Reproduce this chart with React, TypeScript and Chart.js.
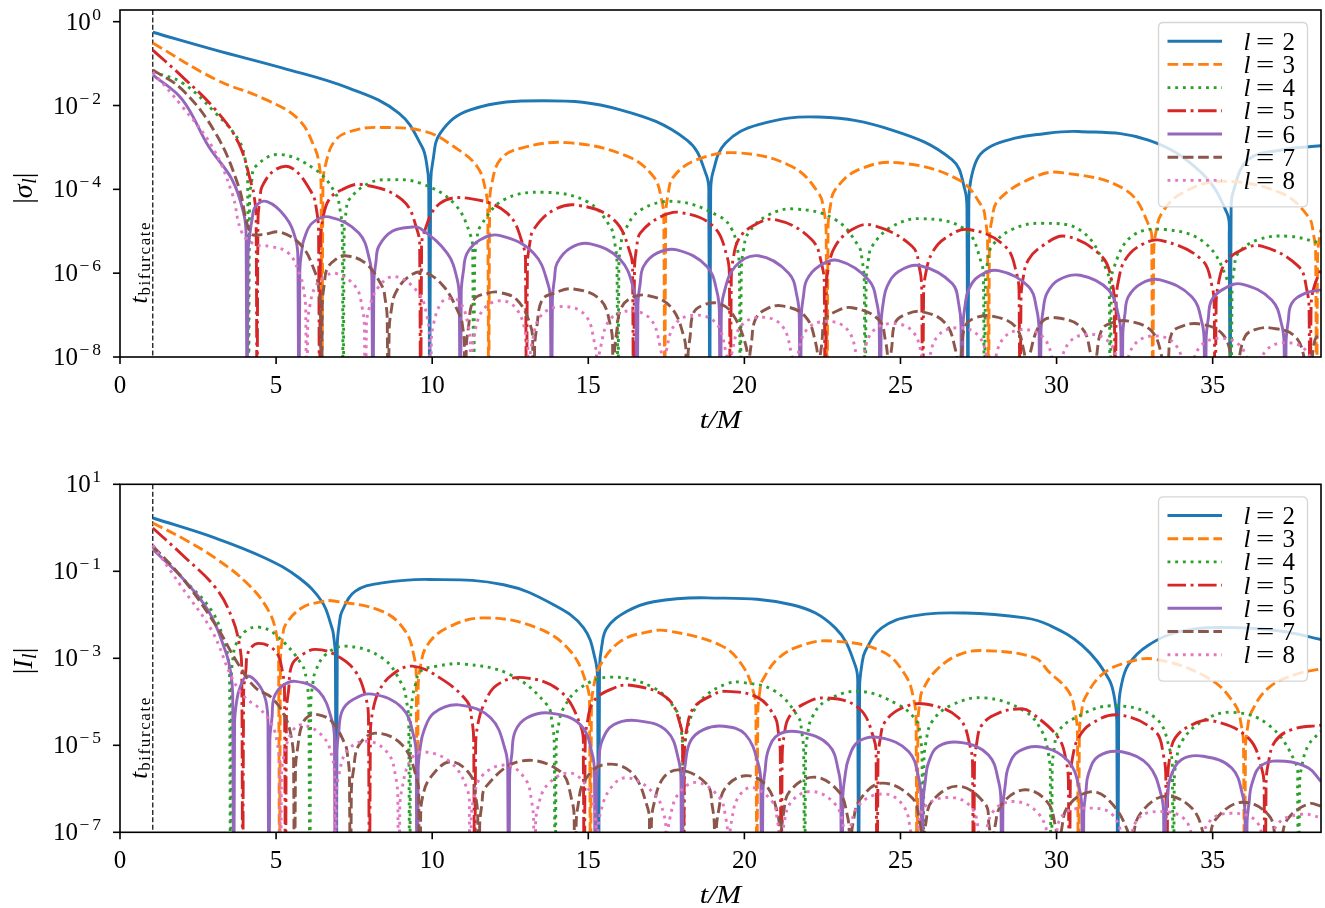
import React, { useEffect, useRef } from "react";
import {
  Chart,
  LineController,
  LineElement,
  PointElement,
  LinearScale,
  LogarithmicScale,
} from "chart.js";

Chart.register(LineController, LineElement, PointElement, LinearScale, LogarithmicScale);

type Pt = [number, number];

// ---------- shared settings ----------
const Z = 1e-14; // value at a zero crossing (|x| -> 0, far below the axis)
const T_BIF = 1.05;
const X_MIN = 0;
const X_MAX = 38.47;
const X_TICKS = [0, 5, 10, 15, 20, 25, 30, 35];
const L_VALUES = [2, 3, 4, 5, 6, 7, 8];
const COLORS = ["#1f77b4", "#ff7f0e", "#2ca02c", "#d62728", "#9467bd", "#8c564b", "#e377c2"];

const SIGMA_Y_MIN = 1e-8;
const SIGMA_Y_MAX = 1.9;
const SIGMA_Y_TICKS = [1e-8, 1e-6, 1e-4, 1e-2, 1];
const SIGMA_Y_EXP = ["-8", "-6", "-4", "-2", "0"];

const I_Y_MIN = 1e-7;
const I_Y_MAX = 10;
const I_Y_TICKS = [1e-7, 1e-5, 1e-3, 1e-1, 10];
const I_Y_EXP = ["-7", "-5", "-3", "-1", "1"];

// ---------- |sigma_l| (top panel) ----------
const sigmaL2: Pt[] = [
  [1.05, 5.6e-1], [3.06, 2.1e-1], [5.19, 7.9e-2], [7.33, 2.6e-2], [8.93, 6.6e-3], [9.67, 1.05e-3], [9.82, 4.2e-4], [9.89, 1.26e-4], [9.92, Z],
  [9.95, 1.4e-4], [10.02, 4.6e-4], [10.26, 2.2e-3], [11.22, 7.9e-3], [13.57, 1.3e-2], [16.03, 7.9e-3], [18.16, 1.5e-3], [18.79, 2.1e-4], [18.86, 6.3e-5], [18.89, Z],
  [18.92, 7.6e-5], [18.99, 2.5e-4], [19.39, 1.26e-3], [20.45, 3.5e-3], [22.38, 5.3e-3], [24.73, 2.6e-3], [26.65, 5.1e-4], [27.06, 1e-4], [27.13, 3e-5], [27.16, Z],
  [27.19, 5.4e-5], [27.26, 1.78e-4], [27.5, 6e-4], [27.93, 1.1e-3], [28.67, 1.66e-3], [29.31, 2e-3], [30.7, 2.4e-3], [32.94, 1.5e-3], [34.65, 2.45e-4], [35.46, 2.7e-5], [35.53, 8.1e-6], [35.56, Z],
  [35.59, 2.7e-5], [35.66, 8.9e-5], [36.14, 5.1e-4], [37.2, 8.7e-4], [38.47, 1.1e-3],
];
const sigmaL3: Pt[] = [
  [1.05, 3.1e-1], [3.06, 4.2e-2], [4.66, 1.4e-2], [5.73, 4.6e-3], [6.26, 8.9e-4], [6.37, 4.3e-4], [6.44, 1.3e-4], [6.47, Z],
  [6.5, 1.07e-4], [6.57, 3.5e-4], [6.9, 1.5e-3], [7.54, 2.6e-3], [8.4, 3e-3], [9.78, 2.4e-3], [10.69, 1.05e-3], [11.44, 3.5e-4], [11.71, 9.5e-5], [11.78, 2.9e-5], [11.81, Z],
  [11.84, 4.2e-5], [11.91, 1.38e-4], [12.18, 5.1e-4], [12.82, 9.5e-4], [14.32, 1.3e-3], [16.24, 6.2e-4], [17.09, 2e-4], [17.35, 5.6e-5], [17.42, 1.7e-5], [17.45, Z],
  [17.48, 2.2e-5], [17.55, 7.2e-5], [17.73, 2e-4], [18.48, 5.1e-4], [19.8, 7.4e-4], [21.52, 3.5e-4], [22.38, 8.1e-5], [22.55, 3e-5], [22.62, 9.1e-6], [22.65, Z],
  [22.68, 1.15e-5], [22.75, 3.8e-5], [22.91, 9.8e-5], [23.66, 2.95e-4], [24.94, 4.3e-4], [26.86, 1.7e-4], [27.61, 3.9e-5], [27.72, 1.86e-5], [27.79, 5.6e-6], [27.82, Z],
  [27.85, 5.2e-6], [27.92, 1.74e-5], [28.14, 5.6e-5], [29.31, 2e-4], [30.17, 2.5e-4], [32.2, 9.8e-5], [32.98, 1.26e-5], [33.05, 3.8e-6], [33.08, Z],
  [33.11, 2.8e-6], [33.18, 9.3e-6], [33.37, 2.7e-5], [34.01, 8.1e-5], [35.29, 1.55e-4], [37.2, 8.1e-5], [38.07, 2.2e-5], [38.23, 8.5e-6], [38.3, 2.6e-6], [38.33, Z],
  [38.36, 2.5e-6], [38.43, 7.9e-6], [38.47, 1.1e-5],
];
const sigmaL4: Pt[] = [
  [1.05, 6.3e-2], [1.99, 3.5e-2], [3.06, 6.6e-3], [3.8, 1.5e-3], [4.02, 4.7e-4], [4.09, 1.4e-4], [4.12, Z],
  [4.15, 4.9e-5], [4.22, 1.6e-4], [4.34, 3.5e-4], [5.09, 6.8e-4], [6.26, 2.95e-4], [6.9, 8.1e-5], [7.05, 3.2e-5], [7.12, 9.8e-6], [7.15, Z],
  [7.18, 9.5e-6], [7.25, 3.2e-5], [7.33, 5.6e-5], [7.97, 1.4e-4], [8.72, 1.7e-4], [9.62, 1.4e-4], [10.69, 4.7e-5], [11.23, 7.9e-6], [11.3, 2.4e-6], [11.33, Z],
  [11.36, 1.86e-6], [11.43, 6.2e-6], [11.54, 1.3e-5], [12.29, 5.6e-5], [13.57, 8.5e-5], [14.96, 5.1e-5], [15.7, 1.3e-5], [15.85, 5.1e-6], [15.92, 1.55e-6], [15.95, Z],
  [15.98, 1.5e-6], [16.05, 5e-6], [16.13, 9.1e-6], [16.67, 3.2e-5], [17.84, 5.1e-5], [19.23, 2.2e-5], [19.6, 1.1e-5], [19.77, 4.1e-6], [19.84, 1.23e-6], [19.87, Z],
  [19.9, 1.05e-6], [19.97, 3.5e-6], [20.13, 9.1e-6], [20.77, 2.45e-5], [21.63, 3.4e-5], [22.91, 1.9e-5], [23.66, 4.4e-6], [23.77, 2.1e-6], [23.84, 6.3e-7], [23.87, Z],
  [23.9, 6e-7], [23.97, 2e-6], [24.09, 4.4e-6], [24.73, 1.3e-5], [25.69, 2e-5], [27.07, 1.1e-5], [27.59, 1.78e-6], [27.66, 5.4e-7], [27.69, Z],
  [27.72, 5.5e-7], [27.79, 1.82e-6], [27.93, 4.4e-6], [28.57, 1.1e-5], [29.53, 1.55e-5], [30.81, 1e-5], [31.62, 1.1e-6], [31.69, 3.3e-7], [31.72, Z],
  [31.75, 3.8e-7], [31.82, 1.26e-6], [32.41, 7.6e-6], [33.48, 1.1e-5], [34.76, 5.2e-6], [35.49, 6.3e-7], [35.56, 1.9e-7], [35.59, Z],
  [35.62, 4e-7], [35.69, 1.3e-6], [35.82, 3e-6], [36.46, 6.3e-6], [37.43, 7.6e-6], [38.47, 5.2e-6],
];
const sigmaL5: Pt[] = [
  [1.05, 2.1e-1], [1.99, 4.9e-2], [3.06, 7.9e-3], [3.8, 1.26e-3], [4.23, 1.17e-4], [4.29, 7.4e-5], [4.36, 2.2e-5], [4.39, Z],
  [4.42, 1.9e-5], [4.49, 6.3e-5], [4.55, 1.17e-4], [4.98, 2.95e-4], [5.51, 3.2e-4], [6.15, 8.1e-5], [6.29, 3.4e-5], [6.36, 1.02e-5], [6.39, Z],
  [6.42, 5.6e-6], [6.49, 1.86e-5], [6.69, 5.6e-5], [7.11, 9.8e-5], [7.75, 1.3e-4], [9.04, 5.6e-5], [9.53, 1e-5], [9.6, 3e-6], [9.63, Z],
  [9.66, 2.7e-6], [9.73, 8.9e-6], [10.26, 4.7e-5], [11.22, 6e-5], [12.4, 2.7e-5], [12.92, 4.4e-6], [12.99, 1.3e-6], [13.02, Z],
  [13.05, 1.45e-6], [13.12, 4.8e-6], [13.25, 1.1e-5], [13.89, 3.2e-5], [14.64, 4.2e-5], [15.81, 1.9e-5], [16.35, 2.9e-6], [16.42, 8.7e-7], [16.45, Z],
  [16.48, 1.26e-6], [16.55, 4.2e-6], [16.67, 9.1e-6], [17.31, 2.2e-5], [17.95, 2.8e-5], [19.01, 1.3e-5], [19.45, 2.4e-6], [19.52, 7.2e-7], [19.55, Z],
  [19.58, 7.2e-7], [19.65, 2.4e-6], [19.81, 6.3e-6], [20.24, 1.3e-5], [20.99, 1.9e-5], [22.16, 6.3e-6], [22.49, 1.48e-6], [22.56, 4.5e-7], [22.59, Z],
  [22.62, 4.1e-7], [22.69, 1.35e-6], [22.91, 4.4e-6], [23.45, 1.1e-5], [24.09, 1.4e-5], [25.37, 4.4e-6], [25.61, 1.3e-6], [25.68, 3.9e-7], [25.71, Z],
  [25.74, 3e-7], [25.81, 1e-6], [26.01, 3e-6], [26.43, 6.8e-6], [27.18, 1.1e-5], [28.35, 4.4e-6], [28.73, 9.1e-7], [28.8, 2.75e-7], [28.83, Z],
  [28.86, 2.3e-7], [28.93, 7.8e-7], [29.1, 2.1e-6], [29.53, 4.4e-6], [30.28, 7.6e-6], [31.45, 2.5e-6], [31.78, 5.9e-7], [31.85, 1.78e-7], [31.88, Z],
  [31.91, 1.95e-7], [31.98, 6.5e-7], [32.2, 2.1e-6], [32.73, 4.8e-6], [33.37, 6e-6], [34.65, 2.1e-6], [34.98, 4.9e-7], [35.05, 1.48e-7], [35.08, Z],
  [35.11, 1.6e-7], [35.18, 5.4e-7], [35.4, 1.74e-6], [35.93, 3.6e-6], [36.57, 4.4e-6], [37.75, 1.45e-6], [38.02, 3.9e-7], [38.09, 1.17e-7], [38.12, Z],
  [38.15, 1.26e-7], [38.22, 4e-7], [38.47, 1.26e-6],
];
const sigmaL6: Pt[] = [
  [1.05, 5.4e-2], [1.99, 1.4e-2], [2.84, 1.05e-3], [3.59, 1.7e-4], [3.97, 2.5e-5], [4.04, 7.6e-6], [4.07, Z],
  [4.1, 2.95e-6], [4.17, 9.8e-6], [4.23, 1.9e-5], [4.34, 3.9e-5], [4.71, 5.1e-5], [5.3, 2.2e-5], [5.63, 6.3e-6], [5.7, 1.9e-6], [5.73, Z],
  [5.76, 1.15e-6], [5.83, 3.8e-6], [5.89, 6.3e-6], [6.15, 1.55e-5], [6.69, 2.2e-5], [7.65, 9.1e-6], [8.0, 2e-6], [8.07, 6.2e-7], [8.1, Z],
  [8.13, 5.75e-7], [8.2, 1.9e-6], [8.29, 4.4e-6], [8.72, 1e-5], [9.36, 1.26e-5], [9.62, 1.17e-5], [10.48, 3e-6], [10.8, 7.2e-7], [10.87, 2.2e-7], [10.9, Z],
  [10.93, 3.4e-7], [11.0, 1.12e-6], [11.12, 3e-6], [11.54, 6.3e-6], [12.18, 7.9e-6], [13.25, 3e-6], [13.72, 5.2e-7], [13.79, 1.6e-7], [13.82, Z],
  [13.85, 2.3e-7], [13.92, 7.6e-7], [14.0, 1.74e-6], [14.43, 4e-6], [15.07, 5e-6], [16.03, 2.1e-6], [16.46, 4e-7], [16.53, 1.2e-7], [16.56, Z],
  [16.59, 1.66e-7], [16.66, 5.5e-7], [16.77, 1.45e-6], [17.2, 3e-6], [17.84, 3.6e-6], [18.8, 1.45e-6], [19.13, 3.4e-7], [19.2, 1.02e-7], [19.23, Z],
  [19.26, 9.1e-8], [19.33, 3e-7], [19.71, 1.45e-6], [20.45, 2.6e-6], [21.42, 1e-6], [21.69, 2.7e-7], [21.76, 8.1e-8], [21.79, Z],
  [21.82, 8.3e-8], [21.89, 2.75e-7], [22.0, 6.9e-7], [22.38, 1.45e-6], [23.02, 2e-6], [23.98, 6.9e-7], [24.25, 1.86e-7], [24.32, 5.6e-8], [24.35, Z],
  [24.38, 6e-8], [24.45, 2e-7], [24.57, 4.8e-7], [24.94, 1.1e-6], [25.63, 1.5e-6], [26.65, 5.75e-7], [26.87, 1.78e-7], [26.94, 5.4e-8], [26.97, Z],
  [27.0, 5.1e-8], [27.07, 1.7e-7], [27.18, 4e-7], [27.5, 8.3e-7], [28.14, 1.15e-6], [29.1, 4.8e-7], [29.37, 1.3e-7], [29.44, 3.9e-8], [29.47, Z],
  [29.5, 4e-8], [29.57, 1.3e-7], [29.69, 3.3e-7], [30.06, 6.9e-7], [30.76, 8.9e-7], [31.66, 4e-7], [31.99, 9.3e-8], [32.06, 2.8e-8], [32.09, Z],
  [32.12, 3.2e-8], [32.19, 1.07e-7], [32.3, 2.75e-7], [32.73, 5.75e-7], [33.32, 6.9e-7], [34.33, 2.75e-7], [34.66, 6.5e-8], [34.73, 1.95e-8], [34.76, Z],
  [34.79, 2.5e-8], [34.86, 8.3e-8], [34.97, 2.3e-7], [35.4, 4.4e-7], [35.93, 5.5e-7], [36.89, 2.3e-7], [37.22, 5.5e-8], [37.29, 1.66e-8], [37.32, Z],
  [37.35, 2.1e-8], [37.42, 7.1e-8], [37.53, 1.9e-7], [37.96, 3.3e-7], [38.47, 4e-7],
];
const sigmaL7: Pt[] = [
  [1.05, 7.1e-2], [1.99, 2.4e-2], [3.06, 2.2e-3], [3.8, 1.17e-4], [4.18, 9.1e-6], [4.55, 8.3e-6], [5.14, 9.5e-6], [5.83, 4.4e-6], [6.26, 1e-6], [6.35, 5.2e-7], [6.42, 1.6e-7], [6.45, Z],
  [6.48, 1.78e-7], [6.55, 5.9e-7], [6.63, 1.26e-6], [6.9, 2.1e-6], [7.22, 2.6e-6], [7.86, 1.74e-6], [8.4, 4.8e-7], [8.49, 2.5e-7], [8.56, 7.9e-8], [8.59, Z],
  [8.62, 4e-8], [8.69, 1.3e-7], [8.82, 3.3e-7], [9.25, 8.3e-7], [9.73, 1.05e-6], [10.37, 4.8e-7], [10.9, 9.3e-8], [10.96, 6.3e-8], [11.03, 1.9e-8], [11.06, Z],
  [11.09, 1.5e-8], [11.16, 5e-8], [11.33, 2.3e-7], [11.76, 3.3e-7], [12.13, 3.5e-7], [12.72, 2.3e-7], [13.15, 5.6e-8], [13.22, 1.78e-8], [13.25, Z],
  [13.28, 1.55e-8], [13.35, 5.1e-8], [13.52, 2.3e-7], [13.89, 3.3e-7], [14.53, 4.2e-7], [15.39, 2.3e-7], [15.71, 5.6e-8], [15.78, 1.7e-8], [15.81, Z],
  [15.84, 1.2e-8], [15.91, 4e-8], [16.03, 1.35e-7], [16.35, 2.5e-7], [16.88, 2.95e-7], [17.63, 1.6e-7], [18.06, 3.1e-8], [18.13, 9.3e-9], [18.16, Z],
  [18.19, 9.1e-9], [18.26, 3e-8], [18.37, 1.12e-7], [18.69, 1.74e-7], [19.17, 1.9e-7], [19.6, 1.12e-7], [20.03, 2.1e-8], [20.1, 6.5e-9], [20.13, Z],
  [20.16, 7.1e-9], [20.23, 2.3e-8], [20.35, 7.8e-8], [20.67, 1.35e-7], [21.2, 1.66e-7], [21.95, 9.3e-8], [22.28, 2.2e-8], [22.35, 6.6e-9], [22.38, Z],
  [22.41, 6.3e-9], [22.48, 2.1e-8], [22.59, 7.8e-8], [22.91, 1.2e-7], [23.45, 1.5e-7], [24.3, 7.8e-8], [24.52, 2.4e-8], [24.59, 7.2e-9], [24.62, Z],
  [24.65, 5.1e-9], [24.72, 1.7e-8], [24.83, 6.5e-8], [25.15, 1.02e-7], [25.69, 1.2e-7], [26.43, 6.5e-8], [26.76, 1.5e-8], [26.83, 4.6e-9], [26.86, Z],
  [26.89, 4.1e-9], [26.96, 1.35e-8], [27.07, 5.4e-8], [27.39, 8.5e-8], [27.93, 9.5e-8], [28.67, 5.4e-8], [28.95, 1.4e-8], [29.02, 4.3e-9], [29.05, Z],
  [29.08, 3.6e-9], [29.15, 1.2e-8], [29.53, 6.9e-8], [30.06, 8.5e-8], [30.81, 4.9e-8], [31.08, 1.3e-8], [31.15, 4e-9], [31.18, Z],
  [31.21, 3.1e-9], [31.28, 1.02e-8], [31.45, 4.5e-8], [31.77, 6.5e-8], [32.3, 7.2e-8], [33.05, 4.1e-8], [33.38, 9.5e-9], [33.45, 2.9e-9], [33.48, Z],
  [33.51, 2.6e-9], [33.58, 8.7e-9], [33.69, 3.7e-8], [34.01, 5.4e-8], [34.54, 6.2e-8], [35.29, 3.7e-8], [35.62, 8.7e-9], [35.69, 2.6e-9], [35.72, Z],
  [35.75, 2.1e-9], [35.82, 6.9e-9], [36.04, 3.1e-8], [36.36, 4.5e-8], [36.89, 4.9e-8], [37.64, 3.1e-8], [37.97, 7.2e-9], [38.04, 2.2e-9], [38.07, Z],
  [38.1, 2e-9], [38.17, 6.3e-9], [38.28, 2.6e-8], [38.47, 3.7e-8],
];
const sigmaL8: Pt[] = [
  [1.05, 6.3e-2], [1.99, 9.5e-3], [2.95, 1.05e-3], [3.59, 8.1e-5], [3.91, 9.1e-6], [4.34, 4.8e-6], [4.77, 4.4e-6], [5.4, 3e-6], [5.78, 8.3e-7], [5.88, 4.2e-7], [5.95, 1.26e-7], [5.98, Z],
  [6.01, 5e-8], [6.08, 1.66e-7], [6.26, 4.8e-7], [6.58, 8.3e-7], [6.9, 1e-6], [7.54, 4.8e-7], [7.76, 1.48e-7], [7.83, 4.5e-8], [7.86, Z],
  [7.89, 3.8e-8], [7.96, 1.26e-7], [8.29, 4.8e-7], [8.82, 8.3e-7], [9.57, 3.3e-7], [9.84, 8.9e-8], [9.91, 2.7e-8], [9.94, Z],
  [9.97, 1.8e-8], [10.04, 6e-8], [10.3, 2e-7], [10.6, 2.5e-7], [10.9, 2e-7], [11.15, 6e-8], [11.22, 1.8e-8], [11.25, Z],
  [11.28, 1.07e-8], [11.35, 3.5e-8], [11.65, 1.4e-7], [12.2, 2.2e-7], [12.7, 1.4e-7], [13.0, 3.5e-8], [13.07, 1.07e-8], [13.1, Z],
  [13.13, 6.8e-9], [13.2, 2.2e-8], [13.5, 1e-7], [14.2, 1.6e-7], [14.9, 1e-7], [15.2, 2.2e-8], [15.27, 6.8e-9], [15.3, Z],
  [15.33, 5.4e-9], [15.4, 1.78e-8], [15.7, 7.9e-8], [16.35, 1.26e-7], [17.0, 7.9e-8], [17.3, 1.78e-8], [17.37, 5.4e-9], [17.4, Z],
  [17.43, 4.3e-9], [17.5, 1.4e-8], [17.8, 6.3e-8], [18.45, 1e-7], [19.1, 6.3e-8], [19.4, 1.4e-8], [19.47, 4.3e-9], [19.5, Z],
  [19.53, 3.8e-9], [19.6, 1.26e-8], [19.9, 5.6e-8], [20.55, 8.9e-8], [21.2, 5.6e-8], [21.5, 1.26e-8], [21.57, 3.8e-9], [21.6, Z],
  [21.63, 3e-9], [21.7, 1e-8], [22.0, 4.5e-8], [22.65, 7.1e-8], [23.3, 4.5e-8], [23.6, 1e-8], [23.67, 3e-9], [23.7, Z],
  [23.73, 2.7e-9], [23.8, 8.9e-9], [24.1, 4e-8], [24.75, 6.3e-8], [25.4, 4e-8], [25.7, 8.9e-9], [25.77, 2.7e-9], [25.8, Z],
  [25.83, 2.1e-9], [25.9, 7.1e-9], [26.2, 3.2e-8], [26.85, 5e-8], [27.5, 3.2e-8], [27.8, 7.1e-9], [27.87, 2.1e-9], [27.9, Z],
  [27.93, 1.9e-9], [28.0, 6.3e-9], [28.3, 2.8e-8], [28.95, 4.5e-8], [29.6, 2.8e-8], [29.9, 6.3e-9], [29.97, 1.9e-9], [30.0, Z],
  [30.03, 1.5e-9], [30.1, 5e-9], [30.4, 2.2e-8], [31.05, 3.5e-8], [31.7, 2.2e-8], [32.0, 5e-9], [32.07, 1.5e-9], [32.1, Z],
  [32.13, 1.3e-9], [32.2, 4.5e-9], [32.5, 2e-8], [33.15, 3.2e-8], [33.8, 2e-8], [34.1, 4.5e-9], [34.17, 1.3e-9], [34.2, Z],
  [34.23, 1.2e-9], [34.3, 4e-9], [34.6, 1.78e-8], [35.25, 2.8e-8], [35.9, 1.78e-8], [36.2, 4e-9], [36.27, 1.2e-9], [36.3, Z],
  [36.33, 9.5e-10], [36.4, 3.2e-9], [36.7, 1.4e-8], [37.35, 2.2e-8], [38.0, 1.4e-8], [38.3, 3.2e-9], [38.37, 9.5e-10], [38.4, Z],
  [38.43, 1e-9], [38.47, 3e-9],
];

// ---------- |I_l| (bottom panel) ----------
const iL2: Pt[] = [
  [1.05, 1.68], [3.06, 5.8e-1], [4.66, 2.0e-1], [5.73, 7.1e-2], [6.47, 2.0e-2], [6.79, 5e-3], [6.83, 3.8e-3], [6.9, 1.15e-3], [6.93, Z],
  [6.96, 2e-3], [7.03, 6.6e-3], [7.11, 1.2e-2], [7.54, 3.5e-2], [8.4, 5.4e-2], [9.9, 6.5e-2], [12.29, 4.9e-2], [13.89, 1.7e-2], [14.85, 5e-3], [15.23, 8.9e-4], [15.3, 2.7e-4], [15.33, Z],
  [15.36, 5.6e-4], [15.43, 1.86e-3], [15.6, 5e-3], [16.24, 1.2e-2], [17.09, 2e-2], [18.8, 2.45e-2], [21.52, 1.7e-2], [22.91, 5e-3], [23.56, 6.6e-4], [23.63, 2e-4], [23.66, Z],
  [23.69, 2.1e-4], [23.76, 6.9e-4], [23.87, 1.45e-3], [24.4, 5e-3], [25.37, 9.3e-3], [27.07, 1.1e-2], [28.99, 8.5e-3], [29.74, 5.9e-3], [30.81, 2e-3], [31.66, 3.5e-4], [31.86, 1.17e-4], [31.93, 3.5e-5], [31.96, Z],
  [31.99, 6.3e-5], [32.06, 2.1e-4], [32.3, 7.1e-4], [32.94, 2e-3], [34.01, 4.2e-3], [35.5, 5.1e-3], [37.21, 4.2e-3], [38.47, 2.7e-3],
];
const iL3: Pt[] = [
  [1.05, 1.29], [1.99, 5.8e-1], [3.06, 2e-1], [4.12, 4.9e-2], [4.77, 1.2e-2], [5.01, 3.6e-3], [5.08, 1.1e-3], [5.11, Z],
  [5.14, 9.3e-4], [5.21, 3.1e-3], [5.3, 5.9e-3], [5.83, 1.45e-2], [6.47, 2e-2], [6.79, 2.1e-2], [8.4, 1.2e-2], [9.14, 4.2e-3], [9.42, 1.1e-3], [9.49, 3.3e-4], [9.52, Z],
  [9.55, 1.9e-4], [9.62, 6.3e-4], [9.84, 2e-3], [10.48, 5e-3], [11.65, 8.5e-3], [13.36, 5e-3], [14.43, 1.45e-3], [14.97, 2.2e-4], [15.04, 6.8e-5], [15.07, Z],
  [15.1, 6.8e-5], [15.17, 2.2e-4], [15.39, 7.1e-4], [16.03, 2.45e-3], [16.88, 4e-3], [17.52, 4.3e-3], [19.23, 2e-3], [19.92, 7.1e-4], [20.3, 1.6e-4], [20.37, 4.8e-5], [20.4, Z],
  [20.43, 5.6e-5], [20.5, 1.86e-4], [20.56, 2.95e-4], [21.1, 1.02e-3], [21.85, 2e-3], [22.8, 2.5e-3], [24.4, 1.45e-3], [25.15, 4.2e-4], [25.43, 1.1e-4], [25.5, 3.3e-5], [25.53, Z],
  [25.56, 3.3e-5], [25.63, 1.1e-4], [25.69, 1.74e-4], [26.11, 5e-4], [26.86, 1.2e-3], [27.71, 1.5e-3], [29.31, 1.02e-3], [29.74, 5e-4], [30.38, 1.74e-4], [30.6, 5.4e-5], [30.67, 1.6e-5], [30.7, Z],
  [30.73, 1.78e-5], [30.8, 5.9e-5], [30.91, 1.23e-4], [31.45, 4.2e-4], [32.2, 7.8e-4], [33.16, 9.5e-4], [34.86, 3.5e-4], [35.72, 8.5e-5], [35.92, 2.8e-5], [35.99, 8.5e-6], [36.02, Z],
  [36.05, 7.9e-6], [36.12, 2.6e-5], [36.25, 6e-5], [36.79, 2.1e-4], [37.64, 4.2e-4], [38.47, 5.75e-4],
];
const iL4: Pt[] = [
  [1.05, 3.8e-1], [1.99, 7.1e-2], [2.95, 1.2e-2], [3.38, 2e-3], [3.44, 1.3e-3], [3.51, 3.9e-4], [3.54, Z],
  [3.57, 3.9e-4], [3.64, 1.3e-3], [3.7, 2e-3], [4.02, 4.2e-3], [4.45, 5.2e-3], [4.98, 3.5e-3], [5.83, 7.1e-4], [5.98, 2.8e-4], [6.05, 8.5e-5], [6.08, Z],
  [6.11, 8.3e-5], [6.18, 2.75e-4], [6.26, 5e-4], [6.58, 1.2e-3], [7.22, 1.9e-3], [8.4, 1.02e-3], [9.04, 2.45e-4], [9.18, 1.02e-4], [9.25, 3.1e-5], [9.28, Z],
  [9.31, 4.3e-5], [9.38, 1.4e-4], [9.46, 2.45e-4], [9.62, 5e-4], [10.16, 6.6e-4], [11.01, 7.4e-4], [12.5, 4.2e-4], [13.68, 8.5e-5], [13.84, 3.3e-5], [13.91, 1e-5], [13.94, Z],
  [13.97, 8.1e-6], [14.04, 2.7e-5], [14.21, 7.2e-5], [14.75, 2.1e-4], [15.7, 3.7e-4], [17.09, 2.1e-4], [17.84, 6e-5], [17.95, 2.9e-5], [18.02, 8.7e-6], [18.05, Z],
  [18.08, 5.6e-6], [18.15, 1.86e-5], [18.37, 6e-5], [18.8, 1.45e-4], [19.44, 2.6e-4], [19.92, 2.8e-4], [20.99, 1.74e-4], [21.74, 4.3e-5], [21.83, 2.2e-5], [21.9, 6.8e-6], [21.93, Z],
  [21.96, 5.6e-6], [22.03, 1.86e-5], [22.16, 4.3e-5], [22.59, 1.02e-4], [23.66, 1.74e-4], [24.94, 8.5e-5], [25.53, 3.5e-5], [25.62, 1.86e-5], [25.69, 5.6e-6], [25.72, Z],
  [25.75, 3.7e-6], [25.82, 1.23e-5], [26.01, 3.5e-5], [26.65, 8.5e-5], [27.71, 1.23e-4], [28.99, 6e-5], [29.53, 2.1e-5], [29.73, 6.9e-6], [29.8, 2.1e-6], [29.83, Z],
  [29.86, 2.75e-6], [29.93, 9.1e-6], [30.06, 2.1e-5], [30.6, 4.3e-5], [31.77, 8.1e-5], [33.16, 4.3e-5], [33.64, 7.4e-6], [33.71, 2.2e-6], [33.74, Z],
  [33.77, 1.38e-6], [33.84, 4.6e-6], [34.01, 1.23e-5], [34.65, 3.5e-5], [35.61, 5.75e-5], [36.79, 2.95e-5], [37.65, 4e-6], [37.72, 1.2e-6], [37.75, Z],
  [37.78, 9.5e-7], [37.85, 3.2e-6], [38.07, 1.02e-5], [38.47, 2.1e-5],
];
const iL5: Pt[] = [
  [1.05, 9.9e-1], [1.99, 2.4e-1], [3.06, 4.2e-2], [3.59, 8.5e-3], [3.83, 2e-3], [3.9, 6e-4], [3.93, Z],
  [3.96, 1.55e-4], [4.03, 5.1e-4], [4.12, 1.45e-3], [4.45, 2.2e-3], [4.98, 1.45e-3], [5.2, 5.1e-4], [5.27, 1.55e-4], [5.3, Z],
  [5.33, 5.6e-5], [5.4, 1.86e-4], [5.51, 7.1e-4], [5.83, 1.2e-3], [6.26, 1.6e-3], [6.9, 1.2e-3], [7.54, 5e-4], [7.89, 1.12e-4], [7.96, 3.4e-5], [7.99, Z],
  [8.02, 1.74e-5], [8.09, 5.75e-5], [8.29, 1.74e-4], [8.72, 4.2e-4], [9.36, 6.6e-4], [10.26, 3.5e-4], [11.12, 1.02e-4], [11.26, 4.3e-5], [11.33, 1.3e-5], [11.36, Z],
  [11.39, 8.9e-6], [11.46, 2.95e-5], [11.65, 8.5e-5], [12.08, 2.45e-4], [12.93, 3.6e-4], [14.11, 1.74e-4], [14.77, 2.6e-5], [14.84, 7.9e-6], [14.87, Z],
  [14.9, 1.02e-5], [14.97, 3.4e-5], [15.17, 1.02e-4], [15.7, 1.9e-4], [16.35, 2.4e-4], [17.52, 1.23e-4], [17.95, 2.95e-5], [18.02, 8.9e-6], [18.05, Z],
  [18.08, 6.9e-6], [18.15, 2.3e-5], [18.37, 7.2e-5], [18.91, 1.35e-4], [19.39, 1.74e-4], [20.45, 1.23e-4], [20.99, 4.3e-5], [21.08, 2.2e-5], [21.15, 6.8e-6], [21.18, Z],
  [21.21, 5.4e-6], [21.28, 1.78e-5], [21.42, 4.3e-5], [21.85, 8.5e-5], [22.59, 1.23e-4], [23.66, 7.2e-5], [24.15, 1.4e-5], [24.22, 4.3e-6], [24.25, Z],
  [24.28, 4.2e-6], [24.35, 1.38e-5], [24.51, 3.5e-5], [25.05, 7.2e-5], [25.79, 8.9e-5], [26.86, 4.3e-5], [27.24, 8.9e-6], [27.31, 2.7e-6], [27.34, Z],
  [27.37, 3.3e-6], [27.44, 1.1e-5], [27.61, 2.95e-5], [28.14, 5.5e-5], [28.89, 6.9e-5], [29.21, 5.5e-5], [30.06, 1.48e-5], [30.31, 4.3e-6], [30.38, 1.3e-6], [30.41, Z],
  [30.44, 1.55e-6], [30.51, 5.1e-6], [30.7, 1.48e-5], [31.13, 3.2e-5], [31.98, 5e-5], [33.16, 2.1e-5], [33.43, 5.6e-6], [33.5, 1.7e-6], [33.53, Z],
  [33.56, 1.66e-6], [33.63, 5.5e-6], [33.8, 1.48e-5], [34.33, 2.95e-5], [34.97, 3.7e-5], [36.14, 1.48e-5], [36.58, 2.75e-6], [36.65, 8.3e-7], [36.68, Z],
  [36.71, 1.15e-6], [36.78, 3.8e-6], [37.0, 1.23e-5], [37.53, 2.3e-5], [38.47, 2.9e-5],
];
const iL6: Pt[] = [
  [1.05, 3.2e-1], [1.99, 7.1e-2], [2.84, 1.2e-2], [3.38, 1.45e-3], [3.54, 5e-4], [3.61, 1.5e-4], [3.64, Z],
  [3.67, 3.2e-5], [3.74, 1.07e-4], [3.84, 2.1e-4], [4.07, 3.9e-4], [4.45, 2.45e-4], [4.67, 1.07e-4], [4.74, 3.2e-5], [4.77, Z],
  [4.8, 1.3e-5], [4.87, 4.4e-5], [4.93, 1.23e-4], [5.19, 2.3e-4], [5.62, 2.95e-4], [6.37, 1.74e-4], [6.8, 3.5e-5], [6.87, 1.07e-5], [6.9, Z],
  [6.93, 5.5e-6], [7.0, 1.8e-5], [7.11, 6e-5], [7.44, 1.1e-4], [8.08, 1.5e-4], [9.04, 7.2e-5], [9.42, 1.5e-5], [9.49, 4.6e-6], [9.52, Z],
  [9.55, 2.75e-6], [9.62, 9.1e-6], [9.73, 2.1e-5], [10.05, 5.5e-5], [10.85, 8.5e-5], [11.87, 4.3e-5], [12.35, 7.4e-6], [12.42, 2.2e-6], [12.45, Z],
  [12.48, 1.86e-6], [12.55, 6.2e-6], [12.66, 2.1e-5], [13.04, 4.3e-5], [13.78, 5.5e-5], [14.75, 2.95e-5], [15.13, 6.2e-6], [15.2, 1.86e-6], [15.23, Z],
  [15.26, 1.26e-6], [15.33, 4.2e-6], [15.44, 1.26e-5], [15.81, 2.95e-5], [16.56, 3.7e-5], [17.52, 2.1e-5], [17.9, 4.4e-6], [17.97, 1.3e-6], [18.0, Z],
  [18.03, 1.02e-6], [18.1, 3.4e-6], [18.27, 1.23e-5], [18.69, 2.3e-5], [19.33, 2.75e-5], [20.03, 1.78e-5], [20.46, 3.4e-6], [20.53, 1.02e-6], [20.56, Z],
  [20.59, 7.6e-7], [20.66, 2.5e-6], [20.77, 7.9e-6], [21.1, 1.78e-5], [21.79, 2e-5], [22.7, 1.02e-5], [23.02, 2.45e-6], [23.09, 7.4e-7], [23.12, Z],
  [23.15, 5.6e-7], [23.22, 1.86e-6], [23.34, 5e-6], [23.66, 1.23e-5], [24.35, 1.5e-5], [25.26, 7.2e-6], [25.59, 1.7e-6], [25.66, 5.1e-7], [25.69, Z],
  [25.72, 4.3e-7], [25.79, 1.4e-6], [25.9, 4e-6], [26.22, 9.5e-6], [26.97, 1.15e-5], [27.82, 6e-6], [28.15, 1.4e-6], [28.22, 4.3e-7], [28.25, Z],
  [28.28, 3.4e-7], [28.35, 1.12e-6], [28.46, 3.2e-6], [28.78, 7.2e-6], [29.53, 9.1e-6], [30.38, 4.3e-6], [30.74, 9.3e-7], [30.81, 2.8e-7], [30.84, Z],
  [30.87, 2.6e-7], [30.94, 8.5e-7], [31.02, 2.2e-6], [31.34, 5.6e-6], [32.09, 7.1e-6], [32.94, 3.5e-6], [33.36, 6.8e-7], [33.43, 2e-7], [33.46, Z],
  [33.49, 2e-7], [33.56, 6.8e-7], [33.64, 1.78e-6], [34.01, 4.7e-6], [34.7, 5.6e-6], [35.61, 3e-6], [35.97, 6.6e-7], [36.04, 2e-7], [36.07, Z],
  [36.1, 1.55e-7], [36.17, 5.1e-7], [36.25, 1.26e-6], [36.57, 3.5e-6], [37.32, 4.3e-6], [38.07, 3e-6], [38.47, 1.48e-6],
];
const iL7: Pt[] = [
  [1.05, 3.8e-1], [1.99, 7.1e-2], [3.06, 5.9e-3], [3.8, 7.1e-4], [4.34, 2.1e-4], [4.87, 1.23e-4], [5.3, 4.3e-5], [5.49, 1.48e-5], [5.56, 4.5e-6], [5.59, Z],
  [5.62, 2.6e-6], [5.69, 8.7e-6], [5.83, 2.95e-5], [6.05, 4.7e-5], [6.37, 5e-5], [6.79, 3.5e-5], [7.22, 1.02e-5], [7.28, 6.5e-6], [7.35, 1.95e-6], [7.38, Z],
  [7.41, 8.1e-7], [7.48, 2.7e-6], [7.65, 1e-5], [8.18, 1.9e-5], [9.04, 1.02e-5], [9.5, 1.8e-6], [9.57, 5.5e-7], [9.6, Z],
  [9.63, 2.1e-7], [9.7, 6.9e-7], [9.94, 1.8e-6], [10.58, 4.2e-6], [11.22, 2.1e-6], [11.39, 6.9e-7], [11.46, 2.1e-7], [11.49, Z],
  [11.52, 1.26e-7], [11.59, 4.2e-7], [11.72, 1.12e-6], [12.82, 4.3e-6], [14.1, 2.5e-6], [14.48, 5.2e-7], [14.55, 1.6e-7], [14.58, Z],
  [14.61, 1.35e-7], [14.68, 4.5e-7], [14.85, 1.4e-6], [15.44, 3.5e-6], [16.35, 2.5e-6], [16.89, 3.9e-7], [16.96, 1.17e-7], [16.99, Z],
  [17.02, 1.23e-7], [17.09, 4.1e-7], [17.41, 1.8e-6], [17.95, 2.7e-6], [18.8, 1.26e-6], [18.97, 4.1e-7], [19.04, 1.23e-7], [19.07, Z],
  [19.1, 9.1e-8], [19.17, 3e-7], [19.39, 1.05e-6], [20.03, 2e-6], [20.67, 1.26e-6], [21.05, 3e-7], [21.12, 9.1e-8], [21.15, Z],
  [21.18, 7.9e-8], [21.25, 2.6e-7], [21.45, 8.7e-7], [22.22, 1.86e-6], [23.02, 8.7e-7], [23.29, 2.6e-7], [23.36, 7.9e-8], [23.39, Z],
  [23.42, 5.5e-8], [23.49, 1.8e-7], [23.7, 5.6e-7], [24.4, 1.35e-6], [25.37, 6.2e-7], [25.61, 1.8e-7], [25.68, 5.5e-8], [25.71, Z],
  [25.74, 4.9e-8], [25.81, 1.6e-7], [26.01, 5.2e-7], [26.86, 1.15e-6], [27.71, 4.5e-7], [27.83, 1.6e-7], [27.9, 4.9e-8], [27.93, Z],
  [27.96, 4.3e-8], [28.03, 1.4e-7], [28.25, 4.5e-7], [28.99, 9.5e-7], [29.7, 5e-7], [29.96, 1.4e-7], [30.03, 4.3e-8], [30.06, Z],
  [30.09, 3.5e-8], [30.16, 1.15e-7], [30.37, 4e-7], [31.07, 8.5e-7], [31.66, 5.6e-7], [32.26, 1.15e-7], [32.33, 3.5e-8], [32.36, Z],
  [32.39, 2.6e-8], [32.46, 8.7e-8], [32.7, 2.8e-7], [33.48, 6.8e-7], [34.33, 3.6e-7], [34.71, 8.7e-8], [34.78, 2.6e-8], [34.81, Z],
  [34.84, 2e-8], [34.91, 6.6e-8], [35.1, 2e-7], [35.93, 4.9e-7], [36.79, 2.5e-7], [37.01, 6.6e-8], [37.08, 2e-8], [37.11, Z],
  [37.14, 1.9e-8], [37.21, 6.3e-8], [37.4, 2e-7], [38.07, 4.5e-7], [38.47, 4e-7],
];
const iL8: Pt[] = [
  [1.05, 4e-1], [1.99, 4.2e-2], [2.95, 4.2e-3], [3.59, 3.5e-4], [4.02, 1.23e-4], [4.45, 7.2e-5], [4.87, 2.95e-5], [5.04, 1.1e-5], [5.11, 3.3e-6], [5.14, Z],
  [5.17, 1.6e-6], [5.24, 5.2e-6], [5.5, 2e-5], [5.83, 2.95e-5], [6.5, 1.6e-5], [6.8, 5.2e-6], [6.87, 1.6e-6], [6.9, Z],
  [6.93, 5.75e-7], [7.0, 1.9e-6], [7.3, 7.9e-6], [7.97, 1.23e-5], [8.6, 6.3e-6], [8.83, 1.9e-6], [8.9, 5.75e-7], [8.93, Z],
  [8.96, 2.95e-7], [9.03, 9.8e-7], [9.3, 4.5e-6], [9.7, 7.1e-6], [10.6, 4e-6], [11.12, 9.8e-7], [11.19, 2.95e-7], [11.22, Z],
  [11.25, 1.6e-7], [11.32, 5.4e-7], [11.6, 2e-6], [12.4, 3.5e-6], [13.0, 1.6e-6], [13.18, 5.4e-7], [13.25, 1.6e-7], [13.28, Z],
  [13.31, 1.1e-7], [13.38, 3.6e-7], [13.7, 1.26e-6], [14.43, 2.3e-6], [15.0, 1e-6], [15.18, 3.6e-7], [15.25, 1.1e-7], [15.28, Z],
  [15.31, 7.8e-8], [15.38, 2.6e-7], [15.7, 1e-6], [16.24, 1.8e-6], [17.1, 7.9e-7], [17.42, 2.6e-7], [17.49, 7.8e-8], [17.52, Z],
  [17.55, 6.8e-8], [17.62, 2.2e-7], [17.9, 7.9e-7], [18.48, 1.4e-6], [19.2, 6.3e-7], [19.4, 2.2e-7], [19.47, 6.8e-8], [19.5, Z],
  [19.53, 6.2e-8], [19.6, 2e-7], [19.8, 6.3e-7], [20.24, 1.07e-6], [20.9, 5e-7], [21.05, 2e-7], [21.12, 6.2e-8], [21.15, Z],
  [21.18, 3.9e-8], [21.25, 1.3e-7], [21.5, 5e-7], [22.16, 8.7e-7], [22.9, 4.5e-7], [23.18, 1.3e-7], [23.25, 3.9e-8], [23.28, Z],
  [23.31, 3.4e-8], [23.38, 1.12e-7], [23.7, 4.5e-7], [24.51, 7.6e-7], [25.1, 4e-7], [25.32, 1.12e-7], [25.39, 3.4e-8], [25.42, Z],
  [25.45, 2.75e-8], [25.52, 9.1e-8], [25.8, 4e-7], [26.65, 6.3e-7], [27.3, 3.5e-7], [27.51, 9.1e-8], [27.58, 2.75e-8], [27.61, Z],
  [27.64, 2.2e-8], [27.71, 7.2e-8], [28.0, 3.2e-7], [28.67, 5.1e-7], [29.4, 2.8e-7], [29.75, 7.2e-8], [29.82, 2.2e-8], [29.85, Z],
  [29.88, 1.45e-8], [29.95, 4.8e-8], [30.2, 2.5e-7], [31.02, 3.6e-7], [31.8, 2.5e-7], [32.15, 4.8e-8], [32.22, 1.45e-8], [32.25, Z],
  [32.28, 1.3e-8], [32.35, 4.3e-8], [32.6, 2e-7], [33.26, 3e-7], [34.1, 2e-7], [34.39, 4.3e-8], [34.46, 1.3e-8], [34.49, Z],
  [34.52, 1.17e-8], [34.59, 3.9e-8], [34.9, 1.78e-7], [35.61, 2.75e-7], [36.4, 1.78e-7], [36.63, 3.9e-8], [36.7, 1.17e-8], [36.73, Z],
  [36.76, 1.12e-8], [36.83, 3.7e-8], [37.1, 1.6e-7], [37.85, 2.6e-7], [38.47, 2.2e-7],
];

const SIGMA_SERIES = [sigmaL2, sigmaL3, sigmaL4, sigmaL5, sigmaL6, sigmaL7, sigmaL8];
const I_SERIES = [iL2, iL3, iL4, iL5, iL6, iL7, iL8];

// ---------- styling ----------
const SERIF = '"Liberation Serif", "DejaVu Serif", serif';
const LW = 2.9;
const DASHES: number[][] = [
  [],
  [10.7, 4.6],
  [2.9, 4.8],
  [18.5, 4.6, 2.9, 4.6],
  [],
  [10.7, 4.6],
  [2.9, 4.8],
];
const TICK_FONT = 25;
const EXP_FONT = 17.5;
const LABEL_FONT = 26;
const LEGEND_FONT = 25;

function buildDatasets(series: Pt[][]) {
  return series.map((s, i) => ({
    label: `l = ${L_VALUES[i]}`,
    data: s.map(([x, y]) => ({ x, y })),
    borderColor: COLORS[i],
    backgroundColor: COLORS[i],
    borderWidth: LW,
    borderDash: DASHES[i],
    borderCapStyle: "butt" as const,
    borderJoinStyle: "round" as const,
    pointRadius: 0,
    pointHoverRadius: 0,
    fill: false,
    tension: 0.4,
    cubicInterpolationMode: "default" as const,
    clip: 0,
    order: L_VALUES.length - i,
  }));
}

function drawLegend(ctx: CanvasRenderingContext2D, a: any) {
  const w = 149;
  const h = 184.4;
  const x0 = a.right - 13.5 - w;
  const y0 = a.top + 12.5;
  const r = 5;
  ctx.save();
  ctx.beginPath();
  ctx.moveTo(x0 + r, y0);
  ctx.lineTo(x0 + w - r, y0);
  ctx.quadraticCurveTo(x0 + w, y0, x0 + w, y0 + r);
  ctx.lineTo(x0 + w, y0 + h - r);
  ctx.quadraticCurveTo(x0 + w, y0 + h, x0 + w - r, y0 + h);
  ctx.lineTo(x0 + r, y0 + h);
  ctx.quadraticCurveTo(x0, y0 + h, x0, y0 + h - r);
  ctx.lineTo(x0, y0 + r);
  ctx.quadraticCurveTo(x0, y0, x0 + r, y0);
  ctx.closePath();
  ctx.fillStyle = "rgba(255,255,255,0.8)";
  ctx.fill();
  ctx.strokeStyle = "rgba(204,204,204,0.8)";
  ctx.lineWidth = 1.3;
  ctx.stroke();

  L_VALUES.forEach((l, i) => {
    const yc = y0 + 18.7 + i * 23.2;
    ctx.save();
    ctx.strokeStyle = COLORS[i];
    ctx.lineWidth = LW;
    ctx.lineCap = "butt";
    ctx.setLineDash(DASHES[i]);
    ctx.beginPath();
    ctx.moveTo(x0 + 9, yc);
    ctx.lineTo(x0 + 63.5, yc);
    ctx.stroke();
    ctx.restore();

    ctx.fillStyle = "#000";
    ctx.textAlign = "left";
    ctx.textBaseline = "alphabetic";
    ctx.font = `italic ${LEGEND_FONT}px ${SERIF}`;
    ctx.fillText("l", x0 + 85, yc + 8.5);
    ctx.font = `${LEGEND_FONT}px ${SERIF}`;
    ctx.save();
    ctx.translate(x0 + 97.5, yc + 8.5);
    ctx.scale(1.3, 1);
    ctx.fillText("=", 0, 0);
    ctx.restore();
    ctx.fillText(String(l), x0 + 124, yc + 8.5);
  });
  ctx.restore();
}

type OverlayCfg = {
  yTicks: number[];
  yExp: string[];
  sym: string;
  yTitleCenterOffset: number;
};

function makeOverlay(cfg: OverlayCfg) {
  return {
    id: "overlay",
    beforeDatasetsDraw(chart: any) {
      const { ctx, chartArea: a } = chart;
      const x = chart.scales.x.getPixelForValue(T_BIF);
      ctx.save();
      ctx.strokeStyle = "#000";
      ctx.lineWidth = 1.2;
      ctx.setLineDash([5, 2.4]);
      ctx.beginPath();
      ctx.moveTo(x, a.top);
      ctx.lineTo(x, a.bottom);
      ctx.stroke();
      ctx.restore();
    },
    afterDatasetsDraw(chart: any) {
      const { ctx, chartArea: a } = chart;
      const xs = chart.scales.x;
      const ys = chart.scales.y;
      ctx.save();
      ctx.fillStyle = "#000";

      // t_bifurcate label (rotated)
      const bx = xs.getPixelForValue(T_BIF);
      ctx.save();
      ctx.translate(bx - 5.8, a.bottom - 53.5);
      ctx.rotate(-Math.PI / 2);
      ctx.textAlign = "left";
      ctx.textBaseline = "alphabetic";
      ctx.font = `italic 25px ${SERIF}`;
      ctx.fillText("t", 0, 0);
      const tw = ctx.measureText("t").width;
      ctx.font = `17px ${SERIF}`;
      (ctx as any).letterSpacing = "1.6px";
      ctx.fillText("bifurcate", tw + 1, 3);
      (ctx as any).letterSpacing = "0px";
      ctx.restore();

      // legend
      drawLegend(ctx, a);

      // spines
      ctx.strokeStyle = "#000";
      ctx.lineWidth = 1.6;
      ctx.setLineDash([]);
      ctx.strokeRect(a.left, a.top, a.right - a.left, a.bottom - a.top);

      // x ticks + labels
      ctx.font = `${TICK_FONT}px ${SERIF}`;
      ctx.textAlign = "center";
      ctx.textBaseline = "alphabetic";
      X_TICKS.forEach((v) => {
        const px = xs.getPixelForValue(v);
        ctx.beginPath();
        ctx.moveTo(px, a.bottom);
        ctx.lineTo(px, a.bottom + 7);
        ctx.stroke();
        ctx.fillText(String(v), px, a.bottom + 36);
      });

      // y ticks + labels (10^k)
      cfg.yTicks.forEach((v, i) => {
        const py = ys.getPixelForValue(v);
        ctx.beginPath();
        ctx.moveTo(a.left - 7, py);
        ctx.lineTo(a.left, py);
        ctx.stroke();
        const right = a.left - 19;
        const e = cfg.yExp[i];
        const neg = e.startsWith("-");
        const digits = neg ? e.slice(1) : e;
        ctx.textAlign = "left";
        ctx.font = `${EXP_FONT}px ${SERIF}`;
        const wm = neg ? ctx.measureText("\u2212").width + 3 : 0;
        const wd = ctx.measureText(digits).width;
        const we = wm + wd;
        ctx.font = `${TICK_FONT}px ${SERIF}`;
        const wb = ctx.measureText("10").width;
        ctx.fillText("10", right - we - wb - 1.5, py + 8);
        ctx.font = `${EXP_FONT}px ${SERIF}`;
        if (neg) ctx.fillText("\u2212", right - we, py - 2);
        ctx.fillText(digits, right - wd, py - 2);
      });

      // x axis title: t/M
      const cx = (a.left + a.right) / 2;
      ctx.font = `italic ${LABEL_FONT}px ${SERIF}`;
      ctx.textAlign = "center";
      ctx.save();
      ctx.translate(cx, a.bottom + 71);
      ctx.scale(1.15, 1);
      ctx.fillText("t/M", 0, 0);
      ctx.restore();

      // y axis title: |sym_l|
      const cy = (a.top + a.bottom) / 2 + cfg.yTitleCenterOffset;
      ctx.save();
      ctx.translate(31.5, cy);
      ctx.rotate(-Math.PI / 2);
      ctx.textAlign = "left";
      const F = 28;
      const runs: { t: string; f: string; dy: number }[] = [
        { t: "|", f: `${F}px ${SERIF}`, dy: 0 },
        { t: cfg.sym, f: `italic ${F}px ${SERIF}`, dy: 0 },
        { t: "l", f: `italic ${Math.round(F * 0.7)}px ${SERIF}`, dy: 4 },
        { t: "|", f: `${F}px ${SERIF}`, dy: 0 },
      ];
      let total = 0;
      const widths = runs.map((r) => {
        ctx.font = r.f;
        const w = ctx.measureText(r.t).width;
        total += w;
        return w;
      });
      let xx = -total / 2;
      runs.forEach((r, i) => {
        ctx.font = r.f;
        ctx.fillText(r.t, xx, r.dy);
        xx += widths[i] + (i === 1 ? 0.5 : 0);
      });
      ctx.restore();

      ctx.restore();
    },
  };
}

function makeChart(
  canvas: HTMLCanvasElement,
  series: Pt[][],
  yMin: number,
  yMax: number,
  padding: { left: number; top: number; right: number; bottom: number },
  cfg: OverlayCfg
) {
  return new Chart(canvas, {
    type: "line",
    data: { datasets: buildDatasets(series) as any },
    options: {
      responsive: false,
      maintainAspectRatio: false,
      animation: false,
      devicePixelRatio: 1,
      events: [],
      layout: { padding },
      elements: { line: { capBezierPoints: false } as any },
      plugins: { legend: { display: false }, tooltip: { enabled: false } } as any,
      scales: {
        x: { type: "linear", min: X_MIN, max: X_MAX, display: false },
        y: { type: "logarithmic", min: yMin, max: yMax, display: false },
      },
    },
    plugins: [makeOverlay(cfg) as any],
  });
}

export default function App() {
  const topRef = useRef<HTMLCanvasElement>(null);
  const botRef = useRef<HTMLCanvasElement>(null);

  useEffect(() => {
    const charts: Chart[] = [];
    if (topRef.current) {
      charts.push(
        makeChart(
          topRef.current,
          SIGMA_SERIES,
          SIGMA_Y_MIN,
          SIGMA_Y_MAX,
          { left: 120, top: 10, right: 4, bottom: 97 },
          { yTicks: SIGMA_Y_TICKS, yExp: SIGMA_Y_EXP, sym: "\u03c3", yTitleCenterOffset: 5 }
        )
      );
    }
    if (botRef.current) {
      charts.push(
        makeChart(
          botRef.current,
          I_SERIES,
          I_Y_MIN,
          I_Y_MAX,
          { left: 120, top: 30.3, right: 4, bottom: 75.7 },
          { yTicks: I_Y_TICKS, yExp: I_Y_EXP, sym: "I", yTitleCenterOffset: 3 }
        )
      );
    }
    return () => charts.forEach((c) => c.destroy());
  }, []);

  return (
    <div style={{ position: "absolute", left: 0, top: 0, width: 1325, height: 908, background: "#fff" }}>
      <canvas
        ref={topRef}
        width={1325}
        height={454}
        style={{ position: "absolute", left: 0, top: 0, width: 1325, height: 454, display: "block" }}
      />
      <canvas
        ref={botRef}
        width={1325}
        height={454}
        style={{ position: "absolute", left: 0, top: 454, width: 1325, height: 454, display: "block" }}
      />
    </div>
  );
}
